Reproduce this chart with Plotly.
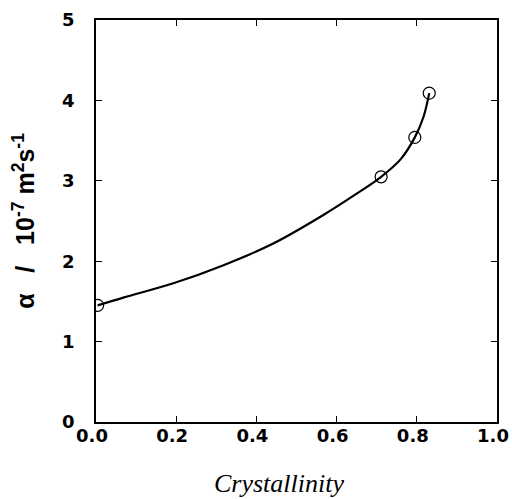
import plotly.graph_objects as go

# measured data points
x_points = [0.004, 0.711, 0.795, 0.831]
y_points = [1.45, 3.05, 3.54, 4.09]

# fitted curve
x_curve = [0.004, 0.07, 0.193, 0.318, 0.442, 0.567, 0.65, 0.711, 0.76, 0.795, 0.817, 0.831]
y_curve = [1.45, 1.55, 1.725, 1.95, 2.22, 2.575, 2.84, 3.05, 3.27, 3.54, 3.80, 4.09]

x_ticks = [0.0, 0.2, 0.4, 0.6, 0.8, 1.0]
x_tick_labels = ["0.0", "0.2", "0.4", "0.6", "0.8", "1.0"]
y_ticks = [0, 1, 2, 3, 4, 5]

x_title = "Crystallinity"
y_title = "α   /   10<sup>-7</sup> m<sup>2</sup>s<sup>-1</sup>"

fig = go.Figure()
fig.add_trace(go.Scatter(x=x_curve, y=y_curve, mode="lines",
                         line=dict(color="black", width=2.2, shape="spline", smoothing=1.0),
                         hoverinfo="skip", showlegend=False))
fig.add_trace(go.Scatter(x=x_points, y=y_points, mode="markers",
                         marker=dict(symbol="circle-open", size=12, color="black",
                                     line=dict(width=1.2, color="black")),
                         showlegend=False))

tick_font = dict(family="DejaVu Sans", size=18, color="black", weight="bold")
axis_common = dict(showgrid=False, zeroline=False, showline=True, linecolor="black",
                   linewidth=1.6, mirror="ticks", ticks="inside", ticklen=6,
                   tickwidth=1.3, tickcolor="black", tickfont=tick_font,
                   automargin=False, ticklabeloverflow="allow")

fig.update_layout(
    width=512, height=499,
    margin=dict(l=96, r=15, t=20, b=77),
    paper_bgcolor="white", plot_bgcolor="white",
    xaxis=dict(range=[0, 1.0], tickvals=x_ticks, ticktext=x_tick_labels,
               ticklabelshift=-4, ticklabelstandoff=-3,
               **axis_common),
    yaxis=dict(range=[0, 5], tickvals=y_ticks, ticklabelstandoff=16,
               title=dict(text=y_title,
                          font=dict(family="Liberation Sans, Arial", size=25,
                                    color="black", weight="bold"),
                          standoff=20),
               **axis_common),
)
fig.add_annotation(text=x_title, xref="paper", yref="paper", x=0.456, y=-0.152,
                   xanchor="center", yanchor="middle", showarrow=False,
                   font=dict(family="Liberation Serif, Times New Roman", size=26,
                             style="italic", color="black"))

fig.write_html("out.html", config={"displayModeBar": False},
               post_script="document.body.style.margin='0';")
